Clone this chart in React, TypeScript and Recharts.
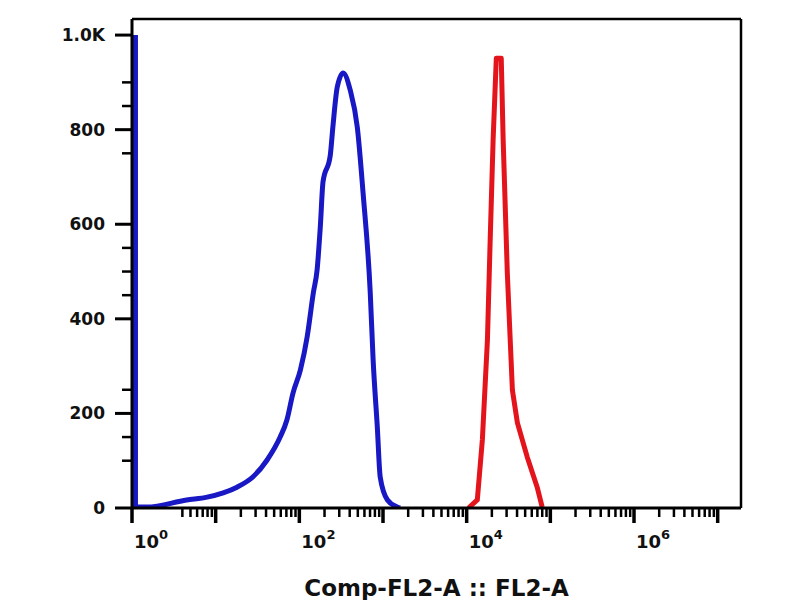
import { Line, LineChart, ReferenceLine, XAxis, YAxis } from 'recharts';

// x axis (log, channel intensity)
const xMajorTicks = [1, 10, 100, 1e3, 1e4, 1e5, 1e6, 1e7];
const xLabelTicks = [1, 100, 1e4, 1e6];
const xLabelExponents = ['0', '2', '4', '6'];
const firstDecadeMinors = [4, 5, 6, 7, 8, 9];
const minorMultipliers = [2, 3, 4, 5, 6, 7, 8, 9];
const xTitle = 'Comp-FL2-A :: FL2-A';

// y axis (count)
const yMajorTicks = [0, 200, 400, 600, 800, 1000];
const yTickLabels = ['0', '200', '400', '600', '800', '1.0K'];
const yMinorTicks = [100, 150, 250, 450, 500, 550, 750, 850, 900];

// blue histogram (control)
const blueIntensity = [
  1.1, 1.1, 1.5, 4.5, 7.9, 12.3, 18, 28, 41, 59, 71, 84, 103, 124, 147, 163, 178, 192,
  234, 253, 284, 334, 405, 493, 578, 704, 762, 855, 925, 1130, 1480, 1600,
];
const blueCount = [
  1000, 2, 2, 17, 23, 32, 44, 66, 101, 150, 186, 243, 292, 362, 455, 503, 594, 690,
  745, 810, 890, 920, 884, 805, 666, 455, 313, 171, 66, 17, 2, 0,
];

// red histogram (stained)
const redIntensity = [
  10500, 13400, 15400, 17700, 19100, 20700, 22600, 25900, 27300, 30600, 35200, 40400,
  52900, 69600, 79900,
];
const redCount = [0, 17, 144, 355, 567, 778, 951, 951, 778, 497, 249, 180, 108, 44, 2];

const X_MAX = 1.9e7;
const Y_MAX = 1034;

const xMinorTicks = [
  ...firstDecadeMinors,
  ...xMajorTicks.slice(1, 7).flatMap((d) => minorMultipliers.map((m) => m * d)),
];
const xTicks = [...xMajorTicks, ...xMinorTicks].sort((a, b) => a - b);
const yTicks = [...yMajorTicks, ...yMinorTicks].sort((a, b) => a - b);

const blueData = blueIntensity.map((x, i) => ({ x, count: blueCount[i] }));
const redData = redIntensity.map((x, i) => ({ x, count: redCount[i] }));

const FONT = '"DejaVu Sans", Arial, sans-serif';

function XTick(props: any) {
  const { x, y, payload } = props;
  const v = Number(payload.value);
  const major = xMajorTicks.some((m) => Math.abs(m - v) < 1e-6 * m);
  const li = xLabelTicks.findIndex((m) => Math.abs(m - v) < 1e-6 * m);
  return (
    <g>
      <line
        x1={x}
        x2={x}
        y1={y}
        y2={y + (major ? 15 : 9)}
        stroke="#000"
        strokeWidth={major ? 3.5 : 2.5}
      />
      {li >= 0 && (
        <text x={x + 2} y={y + 40} fontFamily={FONT} fontWeight="bold" fontSize={18} fill="#111">
          10
          <tspan dy={-9} fontSize={13}>
            {xLabelExponents[li]}
          </tspan>
        </text>
      )}
    </g>
  );
}

function YTick(props: any) {
  const { x, y, payload } = props;
  const li = yMajorTicks.indexOf(Number(payload.value));
  const major = li >= 0;
  return (
    <g>
      <line x1={x - (major ? 17 : 10)} x2={x} y1={y} y2={y} stroke="#000" strokeWidth={major ? 3 : 2.5} />
      {major && (
        <text
          x={x - 27}
          y={y}
          dy={6}
          textAnchor="end"
          fontFamily={FONT}
          fontWeight="bold"
          fontSize={17}
          fill="#111"
        >
          {yTickLabels[li]}
        </text>
      )}
    </g>
  );
}

export default function App() {
  return (
    <div style={{ position: 'absolute', left: 0, top: 0, width: 800, height: 600, background: '#fff' }}>
      <LineChart width={800} height={600} margin={{ top: 19, right: 59, bottom: 0, left: 60 }}>
        <XAxis
          dataKey="x"
          type="number"
          scale="log"
          domain={[1, X_MAX]}
          allowDataOverflow
          ticks={xTicks}
          interval={0}
          minTickGap={0}
          tick={<XTick />}
          tickLine={false}
          tickSize={0}
          tickMargin={0}
          height={92}
          axisLine={{ stroke: '#000', strokeWidth: 3 }}
          label={{
            value: xTitle,
            position: 'insideBottom',
            offset: 4,
            fill: '#111',
            fontSize: 23,
            fontWeight: 'bold',
            fontFamily: FONT,
          }}
        />
        <YAxis
          dataKey="count"
          type="number"
          domain={[0, Y_MAX]}
          allowDataOverflow
          ticks={yTicks}
          interval={0}
          tick={<YTick />}
          tickLine={false}
          tickSize={0}
          tickMargin={0}
          width={72}
          axisLine={{ stroke: '#000', strokeWidth: 3 }}
        />
        <ReferenceLine y={Y_MAX} stroke="#000" strokeWidth={2.5} />
        <ReferenceLine x={X_MAX} stroke="#000" strokeWidth={2.5} />
        <Line
          data={blueData}
          dataKey="count"
          type="monotone"
          stroke="#1818c4"
          strokeWidth={5}
          dot={false}
          strokeLinejoin="round"
          isAnimationActive={false}
        />
        <Line
          data={redData}
          dataKey="count"
          type="linear"
          stroke="#e3141c"
          strokeWidth={5}
          dot={false}
          strokeLinejoin="round"
          isAnimationActive={false}
        />
      </LineChart>
    </div>
  );
}
